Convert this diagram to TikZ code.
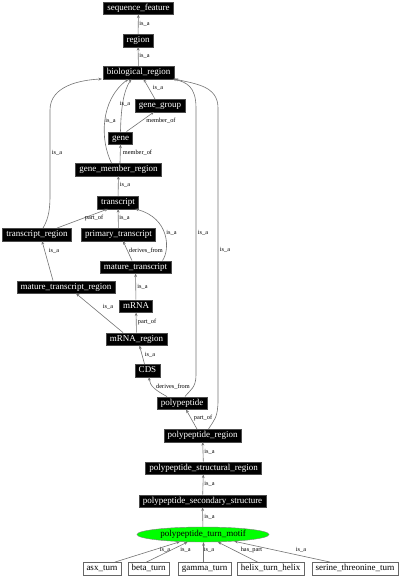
\documentclass[tikz,border=0pt]{standalone}
\usepackage{fontspec}
\setmainfont{Liberation Serif}
\usetikzlibrary{shapes.geometric,arrows.meta}
\begin{document}
\begin{tikzpicture}[x=1pt,y=-1pt,
  blk/.style={fill=black,text=white,draw=black!70,line width=0.4pt,
    font=\fontsize{9}{10}\selectfont,inner xsep=3.6pt,inner ysep=0pt,
    text height=6.4pt,text depth=2pt,minimum height=12.5pt},
  wht/.style={blk,fill=white,text=black,draw=black!60},
  motif/.style={ellipse,fill=green,draw=black!50,line width=0.4pt,
    font=\fontsize{9}{10}\selectfont,inner sep=0pt,
    minimum width=132pt,minimum height=15pt},
  arr/.style={draw=black!55,line width=0.6pt,
    -{Stealth[length=3.6pt,width=2.8pt]}},
  lab/.style={font=\fontsize{6.3}{7}\selectfont,inner sep=0pt,text=black}]
\useasboundingbox (0,0) rectangle (401,576);

% nodes
\node[blk] (seq) at (138.5,8) {sequence\_feature};
\node[blk] (region) at (138,40.5) {region};
\node[blk] (bio) at (138.5,72.5) {biological\_region};
\node[blk] (ggroup) at (160,105.5) {gene\_group};
\node[blk] (gene) at (120.5,138) {gene};
\node[blk] (gmr) at (118.5,169.5) {gene\_member\_region};
\node[blk] (transcript) at (118,202.5) {transcript};
\node[blk] (trg) at (37,234.5) {transcript\_region};
\node[blk] (ptr) at (118.5,234.5) {primary\_transcript};
\node[blk] (mt) at (135.5,267) {mature\_transcript};
\node[blk] (mtr) at (66,287) {mature\_transcript\_region};
\node[blk] (mrna) at (136,306) {mRNA};
\node[blk] (mrnareg) at (136.5,339) {mRNA\_region};
\node[blk] (cds) at (147.5,370.5) {CDS};
\node[blk] (pp) at (182,403) {polypeptide};
\node[blk] (ppr) at (202.5,435.5) {polypeptide\_region};
\node[blk] (psr) at (203.5,468) {polypeptide\_structural\_region};
\node[blk] (pss) at (202.5,501) {polypeptide\_secondary\_structure};
\node[motif] (ptm) at (203,534.5) {polypeptide\_turn\_motif};
\node[wht] (asx) at (102,568.5) {asx\_turn};
\node[wht] (beta) at (148.5,568.5) {beta\_turn};
\node[wht] (gamma) at (204.5,568.5) {gamma\_turn};
\node[wht] (hth) at (270.5,568.5) {helix\_turn\_helix};
\node[wht] (stt) at (355,568.5) {serine\_threonine\_turn};

% edges
\draw[arr] (region) -- (seq) node[lab] at (144.5,24) {is\_a};
\draw[arr] (bio) -- (region) node[lab] at (144.5,56) {is\_a};
\draw[arr] ([xshift=-5]ggroup.north) -- ([xshift=5]bio.south)
  node[lab] at (158,88) {is\_a};
\draw[arr] (gene.north) .. controls (121,106) and (124,90) .. ([xshift=-7]bio.south)
  node[lab] at (125,104) {is\_a};
\draw[arr] ([xshift=-7]gmr.north) .. controls (100,140) and (100,100) .. ([xshift=-10]bio.south)
  node[lab] at (110.5,121) {is\_a};
\draw[arr] ([xshift=6]gene.north) -- ([xshift=-6]ggroup.south)
  node[lab] at (161,121) {member\_of};
\draw[arr] ([xshift=1.5]gmr.north) -- (gene.south)
  node[lab] at (137.5,153) {member\_of};
\draw[arr] (transcript) -- (gmr) node[lab] at (125,185) {is\_a};
\draw[arr] ([xshift=6]trg.north) .. controls (49,218) and (50,208) .. (50,195)
  -- (50,110) .. controls (50,86) and (80,80) .. ([xshift=-1]bio.south west)
  node[lab] at (57,153) {is\_a};
\draw[arr] ([xshift=20]trg.north) -- ([xshift=-10]transcript.south)
  node[lab] at (94,218) {part\_of};
\draw[arr] (ptr) -- (transcript) node[lab] at (124.5,218) {is\_a};
\draw[arr] ([xshift=-3.5]mt.north) -- ([xshift=4.5]ptr.south)
  node[lab] at (146,251) {derives\_from};
\draw[arr] ([xshift=27]mt.north) .. controls (170,250) and (170,218) .. ([xshift=17]transcript.south)
  node[lab] at (171.5,233) {is\_a};
\draw[arr] ([xshift=-13]mtr.north) -- ([xshift=5]trg.south)
  node[lab] at (54,251) {is\_a};
\draw[arr] (mrna) -- (mt) node[lab] at (142.5,287) {is\_a};
\draw[arr] ([xshift=-13.5]mrnareg.north) -- ([xshift=10]mtr.south)
  node[lab] at (108,307) {is\_a};
\draw[arr] (mrnareg) -- (mrna) node[lab] at (147,322) {part\_of};
\draw[arr] ([xshift=-3]cds.north) -- ([xshift=3]mrnareg.south)
  node[lab] at (150,355) {is\_a};
\draw[arr] ([xshift=-15]pp.north) .. controls (155,390) and (150,386) .. ([xshift=1.5]cds.south)
  node[lab] at (173,387) {derives\_from};
\draw[arr] ([xshift=3]pp.north) .. controls (190,390) and (196,388) .. (196,375)
  -- (196,108) .. controls (196,86) and (186,82) .. ([xshift=-1.5]bio.south east)
  node[lab] at (203,233) {is\_a};
\draw[arr] ([xshift=6]ppr.north) .. controls (214,420) and (218,418) .. (218,400)
  -- (218,108) .. controls (218,86) and (196,84) .. ([xshift=0.5]bio.south east)
  node[lab] at (225,250) {is\_a};
\draw[arr] ([xshift=-5.5]ppr.north) -- ([xshift=4]pp.south)
  node[lab] at (203,418) {part\_of};
\draw[arr] (psr) -- (ppr) node[lab] at (209.5,452) {is\_a};
\draw[arr] (pss) -- (psr) node[lab] at (209.5,483.5) {is\_a};
\draw[arr] (ptm) -- (pss) node[lab] at (209.5,517) {is\_a};
\draw[arr] ([xshift=13]asx.north) -- (ptm) node[lab] at (165,550) {is\_a};
\draw[arr] ([xshift=-2]beta.north) -- (ptm) node[lab] at (185.5,550) {is\_a};
\draw[arr] ([xshift=-1]gamma.north) -- ([xshift=0.5]ptm.south)
  node[lab] at (209,550) {is\_a};
\draw[arr] ([xshift=-13]hth.north) -- (ptm) node[lab] at (251.5,550) {has\_part};
\draw[arr] ([xshift=-25]stt.north) -- (ptm) node[lab] at (301,550) {is\_a};
\end{tikzpicture}
\end{document}
